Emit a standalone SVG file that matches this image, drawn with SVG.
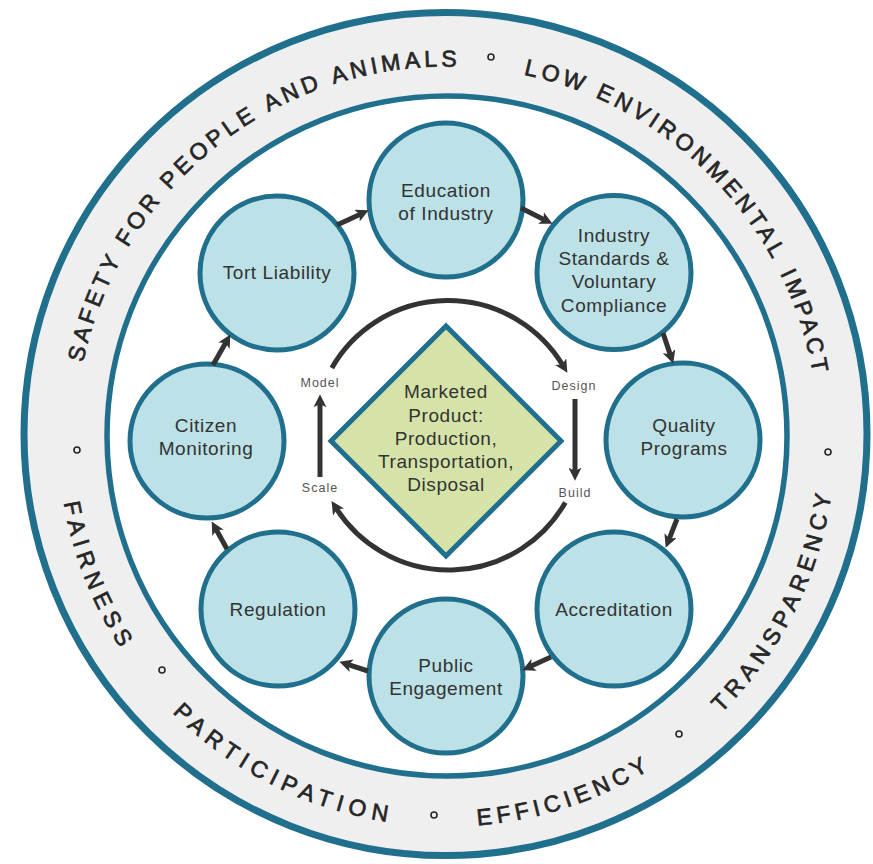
<svg xmlns="http://www.w3.org/2000/svg" width="873" height="864" viewBox="0 0 873 864">
<style>
.band{fill:#efefef;stroke:#1f6f8d;stroke-width:7}
.inner{fill:#ffffff;stroke:#1f6f8d;stroke-width:5.5}
.ring{font-family:"Liberation Sans",Arial,sans-serif;font-size:23px;fill:#262626;stroke:#262626;stroke-width:0.7}
.dot{fill:none;stroke:#262626;stroke-width:1.6}
.node circle{fill:#bce1e6;stroke:#1f6f8d;stroke-width:5}
.lbl{font-family:"Liberation Sans",Arial,sans-serif;font-size:19px;fill:#333333;text-anchor:middle;letter-spacing:0.6px}
.small{font-family:"Liberation Sans",Arial,sans-serif;font-size:12.5px;fill:#555555;text-anchor:middle;letter-spacing:1px}
.conn path,.conn line{fill:none;stroke:#333333;stroke-width:5}
</style>
<defs>
<marker id="ah" markerUnits="userSpaceOnUse" markerWidth="13" markerHeight="13" viewBox="0 0 12 12" refX="4" refY="6" orient="auto">
<path d="M0,0 L12,6 L0,12 L3,6 Z" fill="#333333"/>
</marker>
<path id="t1" d="M83.2,362.7 A371.5,371.5 0 0 1 456.1,66.6"/>
<path id="t2" d="M523.6,74.5 A371.5,371.5 0 0 1 813.1,374.8"/>
<path id="b1" d="M63.9,502.8 A388.5,388.5 0 0 0 120.8,649.0"/>
<path id="b2" d="M172.3,712.7 A388.5,388.5 0 0 0 392.3,822.6"/>
<path id="b3" d="M477.5,825.3 A388.5,388.5 0 0 0 648.8,770.0"/>
<path id="b4" d="M721.2,713.2 A388.5,388.5 0 0 0 831.5,493.4"/>
</defs>
<rect width="873" height="864" fill="#ffffff"/>
<g id="outer-ring">
<circle class="band" cx="445.5" cy="434" r="421.5"/>
<circle class="inner" cx="447" cy="436" r="340"/>
<text class="ring" letter-spacing="4"><textPath href="#t1" startOffset="0">SAFETY</textPath></text>
<text class="ring" letter-spacing="4"><textPath href="#t1" startOffset="123.9">FOR</textPath></text>
<text class="ring" letter-spacing="4"><textPath href="#t1" startOffset="194.8">PEOPLE</textPath></text>
<text class="ring" letter-spacing="4"><textPath href="#t1" startOffset="321.3">AND</textPath></text>
<text class="ring" letter-spacing="4"><textPath href="#t1" startOffset="392.2">ANIMALS</textPath></text>
<text class="ring" letter-spacing="4.03"><textPath href="#t2" startOffset="0">LOW</textPath></text>
<text class="ring" letter-spacing="4.03"><textPath href="#t2" startOffset="74.9">ENVIRON</textPath></text>
<text class="ring" letter-spacing="4.03"><textPath href="#t2" startOffset="207.9">MENTAL</textPath></text>
<text class="ring" letter-spacing="4.03"><textPath href="#t2" startOffset="335.8">IMPACT</textPath></text>
<text class="ring" letter-spacing="6.14"><textPath href="#b1">FAIRNESS</textPath></text>
<text class="ring" letter-spacing="6.15"><textPath href="#b2">PARTICIPATION</textPath></text>
<text class="ring" letter-spacing="5"><textPath href="#b3">EFFICIENCY</textPath></text>
<text class="ring" letter-spacing="5.55"><textPath href="#b4">TRANSPARENCY</textPath></text>
<circle class="dot" cx="491" cy="57" r="3"/>
<circle class="dot" cx="828" cy="452" r="3"/>
<circle class="dot" cx="77" cy="450" r="3"/>
<circle class="dot" cx="162" cy="670" r="3"/>
<circle class="dot" cx="434" cy="815" r="3"/>
<circle class="dot" cx="679" cy="734" r="3"/>
</g>
<g id="center-product">
<polygon points="446,326 561,441 446,556 331,441" fill="#d5e3a8" stroke="#1f6f8d" stroke-width="5"/>
<text class="lbl" x="446" y="398">Marketed</text>
<text class="lbl" x="446" y="421.5">Product:</text>
<text class="lbl" x="446" y="445">Production,</text>
<text class="lbl" x="446" y="468.3">Transportation,</text>
<text class="lbl" x="446" y="491">Disposal</text>
</g>
<g id="node-education" class="node">
<circle cx="446" cy="200" r="77"/>
<text class="lbl" x="446" y="197">Education</text>
<text class="lbl" x="446" y="220">of Industry</text>
</g>
<g id="node-standards" class="node">
<circle cx="614" cy="272.5" r="77"/>
<text class="lbl" x="614" y="242">Industry</text>
<text class="lbl" x="614" y="265">Standards &amp;</text>
<text class="lbl" x="614" y="288">Voluntary</text>
<text class="lbl" x="614" y="312">Compliance</text>
</g>
<g id="node-quality" class="node">
<circle cx="683" cy="440" r="77"/>
<text class="lbl" x="684" y="432">Quality</text>
<text class="lbl" x="684" y="455">Programs</text>
</g>
<g id="node-accreditation" class="node">
<circle cx="614" cy="609" r="77"/>
<text class="lbl" x="614" y="616">Accreditation</text>
</g>
<g id="node-public" class="node">
<circle cx="446" cy="676" r="77"/>
<text class="lbl" x="446" y="672">Public</text>
<text class="lbl" x="446" y="695">Engagement</text>
</g>
<g id="node-regulation" class="node">
<circle cx="278" cy="609" r="77"/>
<text class="lbl" x="278" y="616">Regulation</text>
</g>
<g id="node-citizen" class="node">
<circle cx="207" cy="441" r="77"/>
<text class="lbl" x="206" y="432">Citizen</text>
<text class="lbl" x="206" y="455">Monitoring</text>
</g>
<g id="node-tort" class="node">
<circle cx="277" cy="273" r="77"/>
<text class="lbl" x="277" y="279">Tort Liability</text>
</g>
<g id="cycle-labels">
<text class="small" x="320" y="387">Model</text>
<text class="small" x="574" y="390">Design</text>
<text class="small" x="320" y="492">Scale</text>
<text class="small" x="575" y="496.5">Build</text>
</g>
<g id="connectors" class="conn">
<line x1="337" y1="225" x2="360.8" y2="213.9" marker-end="url(#ah)"/>
<line x1="521" y1="208" x2="544.8" y2="219.9" marker-end="url(#ah)"/>
<line x1="663" y1="333" x2="670.5" y2="355.4" marker-end="url(#ah)"/>
<line x1="677" y1="519" x2="668.9" y2="539.6" marker-end="url(#ah)"/>
<line x1="551" y1="657" x2="530.2" y2="666.6" marker-end="url(#ah)"/>
<line x1="368" y1="671" x2="347.6" y2="664.4" marker-end="url(#ah)"/>
<line x1="227" y1="549" x2="215.9" y2="529" marker-end="url(#ah)"/>
<line x1="213" y1="365" x2="226.1" y2="342" marker-end="url(#ah)"/>
<path d="M331.8,367.9 A134,134 0 0 1 562.9,365.4" marker-end="url(#ah)"/>
<path d="M565.3,502.5 A134,134 0 0 1 336.2,508.4" marker-end="url(#ah)"/>
<line x1="320" y1="477" x2="320" y2="403" marker-end="url(#ah)"/>
<line x1="575" y1="399" x2="575" y2="472" marker-end="url(#ah)"/>
</g>
</svg>
